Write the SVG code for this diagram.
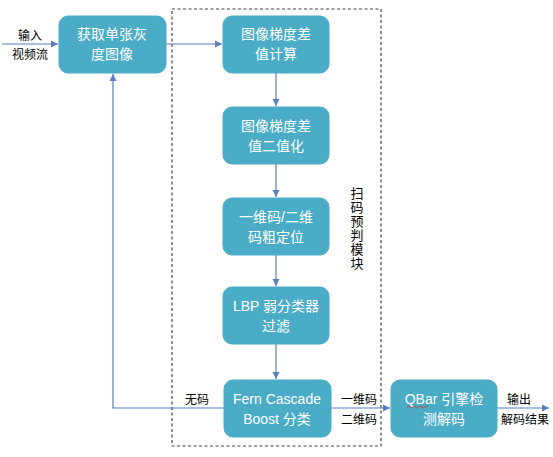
<svg xmlns="http://www.w3.org/2000/svg" width="553" height="457" viewBox="0 0 553 457">
<defs>
<marker id="arr" markerWidth="8" markerHeight="8" refX="7" refY="4" orient="auto" markerUnits="userSpaceOnUse">
<path d="M0,0.5 L7,4 L0,7.5 Z" fill="#5b7fbf"/>
</marker>
</defs>
<style>
.box{fill:#4aacc6;stroke:#4aacc6;stroke-width:1}
.bt{fill:#ffffff;font-family:"Liberation Sans","Noto Sans CJK SC",sans-serif;font-size:14px;text-anchor:middle}
.lb{fill:#000000;font-family:"Liberation Sans","Noto Sans CJK SC",sans-serif;font-size:12px;text-anchor:middle}
.vt{fill:#000000;font-family:"Liberation Sans","Noto Sans CJK SC",sans-serif;font-size:13px;text-anchor:middle}
.ln{fill:none;stroke:#5b7fbf;stroke-width:1.2}
</style>
<rect width="553" height="457" fill="#ffffff"/>
<rect x="172" y="9" width="209" height="437" fill="none" stroke="#444444" stroke-width="1.2" stroke-dasharray="3,2.5"/>
<g class="vt">
<text x="357" y="198">扫</text>
<text x="357" y="212">码</text>
<text x="357" y="226">预</text>
<text x="357" y="240">判</text>
<text x="357" y="254">模</text>
<text x="357" y="268">块</text>
</g>
<g id="connectors">
<line class="ln" x1="2" y1="44" x2="58" y2="44" marker-end="url(#arr)"/>
<line class="ln" x1="166" y1="44" x2="222" y2="44" marker-end="url(#arr)"/>
<line class="ln" x1="276" y1="73" x2="276" y2="106" marker-end="url(#arr)"/>
<line class="ln" x1="276" y1="164" x2="276" y2="197" marker-end="url(#arr)"/>
<line class="ln" x1="276" y1="255" x2="276" y2="286" marker-end="url(#arr)"/>
<line class="ln" x1="276" y1="344" x2="276" y2="379" marker-end="url(#arr)"/>
<polyline class="ln" points="224,408 113,408 113,74" marker-end="url(#arr)"/>
<line class="ln" x1="331" y1="408" x2="390" y2="408" marker-end="url(#arr)"/>
<line class="ln" x1="497" y1="408" x2="549" y2="408" marker-end="url(#arr)"/>
<text class="lb" x="30" y="40">输入</text>
<text class="lb" x="30" y="59">视频流</text>
<text class="lb" x="197" y="404">无码</text>
<text class="lb" x="359" y="404">一维码</text>
<text class="lb" x="359" y="424">二维码</text>
<text class="lb" x="519" y="404">输出</text>
<text class="lb" x="525" y="424">解码结果</text>
</g>
<g id="n1"><rect class="box" x="59" y="16" width="107" height="57" rx="9"/><text class="bt" x="112" y="39">获取单张灰</text><text class="bt" x="112" y="59">度图像</text></g>
<g id="n2"><rect class="box" x="223" y="16" width="106" height="57" rx="9"/><text class="bt" x="276" y="39">图像梯度差</text><text class="bt" x="276" y="59">值计算</text></g>
<g id="n3"><rect class="box" x="223" y="107" width="106" height="57" rx="9"/><text class="bt" x="276" y="131">图像梯度差</text><text class="bt" x="276" y="151">值二值化</text></g>
<g id="n4"><rect class="box" x="223" y="198" width="106" height="57" rx="9"/><text class="bt" x="276" y="222">一维码/二维</text><text class="bt" x="276" y="242">码粗定位</text></g>
<g id="n5"><rect class="box" x="223" y="287" width="106" height="57" rx="9"/><text class="bt" x="276" y="311">LBP 弱分类器</text><text class="bt" x="276" y="331">过滤</text></g>
<g id="n6"><rect class="box" x="224" y="380" width="107" height="57" rx="9"/><text class="bt" x="277" y="404">Fern Cascade</text><text class="bt" x="277" y="424">Boost 分类</text></g>
<g id="n7"><rect class="box" x="391" y="380" width="106" height="57" rx="9"/><text class="bt" x="444" y="404">QBar 引擎检</text><text class="bt" x="444" y="424">测解码</text>
<path d="M407,407 q1.5,-2 3,0 t3,0 t3,0 t3,0 t3,0 t3,0 t3,0" fill="none" stroke="#c0392b" stroke-width="0.8"/></g>
</svg>
